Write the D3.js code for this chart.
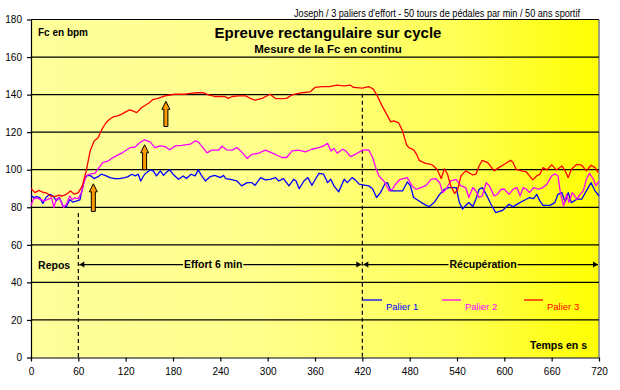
<!DOCTYPE html>
<html>
<head>
<meta charset="utf-8">
<script src="https://cdn.jsdelivr.net/npm/d3@7"></script>
<style>
  html, body { margin: 0; padding: 0; background: #fff; }
  svg { display: block; font-family: "Liberation Sans", Arial, sans-serif; }
</style>
</head>
<body>
<svg id="chart" width="620" height="390"></svg>
<script>
// ---------- DATA ----------
const xTicks = [0, 60, 120, 180, 240, 300, 360, 420, 480, 540, 600, 660, 720];
const yTicks = [0, 20, 40, 60, 80, 100, 120, 140, 160, 180];

const seriesNames = ["Palier 1", "Palier 2", "Palier 3"];

// Palier 1 (blue)
const p1Time = [0,3,7,11,15,19,24,28,32,36,41,45,49,53,58,62,65,68,71,76,80,85,89,94,100,106,112,119,123,128,132,136,139,144,151,155,159,164,168,172,176,180,187,193,197,203,208,212,216,221,227,233,240,244,247,253,261,267,274,280,284,291,297,303,310,314,320,327,333,336,340,346,351,356,365,371,376,380,384,390,397,401,407,411,416,424,428,433,438,443,449,452,456,462,471,477,481,485,490,495,501,505,511,518,524,530,539,543,547,551,555,560,564,568,572,577,583,589,598,606,611,618,626,632,637,641,645,649,658,664,668,673,677,681,685,692,698,704,710,715,720];
const p1Hr = [86.4,85.2,85.7,85.2,82.1,85.2,86.9,86,83.4,85.2,80.4,80.4,84,82.8,83.4,84,89.6,94.9,97,96.7,95.3,96.3,97.6,97,95.8,95.3,95.3,95.8,96.3,97.6,96.7,97.6,94,97.6,99.9,99.4,96.7,99.4,97,98.8,99.9,97.6,94.9,96.7,95.3,97.6,96.7,99.9,97,94,96.3,97,95.8,97,95.3,94.9,94,91.4,93.1,93.1,91.7,95.8,94.6,94.9,95.8,94,95.3,91.4,94.9,94,89.9,94,95.8,91.7,98.1,97.6,93.1,94.9,91.4,88.2,94.9,93.1,95.8,94.6,92.3,91.7,91.4,89.9,85.2,87.8,92.8,93.1,88.7,88.7,88.7,93.5,91.4,85.2,83.9,82.5,81,80.4,82.5,86.9,89.6,90.5,90.5,82.5,79,81,82.5,80.4,84.3,89.6,90.5,86.9,81.6,77.2,78.4,81.6,80.2,82.1,83.9,85.2,84.6,86.9,83.4,81,81,82.5,86.9,87.8,82.8,87.8,82.5,84.3,84.3,88.7,93.1,88.7,86];

// Palier 2 (magenta)
const p2Time = [0,3,7,11,17,22,26,29,32,36,41,45,49,52,55,60,64,67,70,74,81,86,91,98,102,108,115,120,126,132,138,144,151,157,164,170,176,183,191,202,208,212,218,223,229,238,242,248,255,261,267,274,280,289,297,306,312,318,324,331,339,348,356,365,371,376,380,384,388,395,399,405,411,420,428,433,437,441,445,449,454,458,462,468,477,483,488,494,501,507,513,518,522,526,532,539,545,551,555,560,564,568,572,577,581,587,591,596,600,606,611,616,620,624,628,632,637,643,649,654,660,664,668,671,675,679,682,686,692,696,700,704,708,713,716,720];
const p2Hr = [81,84.3,85,84.3,83.4,84.3,85,80,84.3,85,80,81.6,86,84,85,84.6,87.8,93,96.7,97.6,98,101,103.8,104.7,106,107.4,108.8,110.2,111.8,112.1,114.5,115.9,114.8,111.8,112.7,112.3,110.6,112.7,113,113.6,115.3,114.8,111.8,109,110.4,110.4,112.5,110.6,110.4,111.8,109.5,106,108.2,108.8,110.4,108.8,107.7,106.5,106.5,110,110.4,109.5,110.9,111.8,112.7,114.1,110,111.3,108.8,110.9,110,107,108.2,110.4,110.6,106.5,101.1,96.7,94.9,93.1,88.7,89.6,92.3,94.9,95.8,91.4,89.6,90.5,91.7,94.9,95.3,93.1,87.8,89.6,94,94.9,91.4,90.5,85.2,90.5,88.7,85.2,86,93.1,91.4,86,86.9,89.6,89.6,86.9,89.5,90.5,86,90.5,89.6,87.8,90.5,89.6,90.5,92.3,96.7,97.9,96.7,87.8,80.7,86.9,82.5,87.8,84.3,86.9,88.7,94.9,98.1,94.9,91.4,94];

// Palier 3 (red)
const p3Time = [0,5,10,15,20,25,30,35,40,45,50,55,60,65,70,75,80,85,90,95,100,105,110,115,120,125,129,134,140,149,155,161,170,182,195,202,210,218,225,233,246,250,255,263,272,278,284,293,303,310,318,324,331,343,354,360,369,378,388,397,405,409,420,428,434,439,445,452,456,460,466,471,476,479,485,489,492,500,507,511,515,520,524,528,532,537,541,545,551,560,564,568,572,579,587,593,600,608,611,615,622,628,632,636,641,645,649,654,660,666,673,677,681,685,692,698,704,710,715,719];
const p3Hr = [90,87.8,89,88,87.5,86,85.7,86.4,86,87,88.7,87,87.8,91.4,99.4,110,115.3,117,121.6,125,127,128.3,128.7,129.6,130.8,131.9,131.3,130.4,133,135.4,137.5,138,139.3,140.2,140.2,140.7,141,141,139.9,139,139,138,139,139.3,139.3,138,137,138,140.2,137.9,137.9,138,139.9,141,141.5,143.8,144.3,144.3,145,144.7,145,143.8,143.4,144.3,142.9,139.3,134,128.7,125.5,126,125,120.7,113.3,111.8,110.6,108,105,103.4,102.9,101.7,100,95.3,100.5,97.6,91.4,87.3,89.6,96.7,99.4,97.2,97.6,102,105,103.8,99.4,101.1,102.9,105,103.8,100.2,99.4,98.8,96.7,94.6,96.7,97.6,101.1,99.9,102.6,99.9,102,99.4,95.8,100.2,102.9,102.4,99.4,102.4,101.1,98.5];

const seriesColors = ["#0000FF", "#FF00FF", "#FF0000"];

// annotations (time, value)
const phaseTimes = [60, 420];           // dashed phase boundaries
const phaseTops = [77, 140.5];          // top of each dashed line (bpm)
const arrowTimes = [79, 144, 171];      // orange arrows
const arrowBase = [77.8, 100, 123];
const arrowTip = [92.5, 113.3, 136.4];
const phaseLevel = 49.5;                // bpm level of the phase arrows
const phaseLabels = ["Repos", "Effort 6 min", "Récupération"];

// ---------- CHART ----------
const svg = d3.select("#chart");
const L = 31, R = 599, T = 19.5, B = 357.5;
const x = d3.scaleLinear().domain([0, 720]).range([L, R]);
const y = d3.scaleLinear().domain([0, 180]).range([B, T]);

const defs = svg.append("defs");
const grad = defs.append("linearGradient").attr("id", "bg")
  .attr("x1", "0%").attr("y1", "0%").attr("x2", "100%").attr("y2", "0%");
[[0, "#FFFF9C"], [0.4, "#FFFF8C"], [0.75, "#FFFF55"], [1, "#FFFF00"]].forEach(([o, c]) =>
  grad.append("stop").attr("offset", o).attr("stop-color", c));

svg.append("rect").attr("width", 620).attr("height", 390).attr("fill", "#fff");
svg.append("rect").attr("x", L).attr("y", T).attr("width", R - L).attr("height", B - T)
  .attr("fill", "url(#bg)");
svg.append("line").attr("x1", R).attr("x2", R).attr("y1", T).attr("y2", B)
  .attr("stroke", "#808080").attr("stroke-width", 1.5);

// grid
svg.append("g").selectAll("line").data(yTicks.filter(d => d > 0)).join("line")
  .attr("x1", L).attr("x2", R).attr("y1", d => y(d)).attr("y2", d => y(d))
  .attr("stroke", "#000").attr("stroke-width", 1.2);

// axes
const yAxis = svg.append("g").attr("transform", `translate(${L},0)`)
  .call(d3.axisLeft(y).tickValues(yTicks).tickSize(4).tickPadding(5).tickSizeOuter(0));
const xAxis = svg.append("g").attr("transform", `translate(0,${B})`)
  .call(d3.axisBottom(x).tickValues(xTicks).tickSize(4).tickPadding(6).tickSizeOuter(0));
[yAxis, xAxis].forEach(g => {
  g.selectAll("path,line").attr("stroke", "#000").attr("stroke-width", 1.2);
  g.selectAll("text").attr("font-size", 10).attr("fill", "#000")
    .attr("font-family", "'Liberation Sans', Arial, sans-serif");
});

// dashed phase lines
svg.append("g").selectAll("line").data(phaseTimes).join("line")
  .attr("x1", d => x(d)).attr("x2", d => x(d))
  .attr("y1", (d, i) => y(phaseTops[i])).attr("y2", B)
  .attr("stroke", "#000").attr("stroke-width", 1.2).attr("stroke-dasharray", "4,3");

// series
const series = [[p1Time, p1Hr], [p2Time, p2Hr], [p3Time, p3Hr]];
const line = d3.line().x(d => x(d[0])).y(d => y(d[1]));
series.forEach(([t, v], i) => {
  svg.append("path").datum(t.map((tt, k) => [tt, v[k]]))
    .attr("d", line).attr("fill", "none")
    .attr("stroke", seriesColors[i]).attr("stroke-width", 1.3)
    .attr("stroke-linejoin", "round");
});

// orange arrows
svg.append("g").selectAll("path").data(arrowTimes).join("path")
  .attr("d", (d, i) => {
    const cx = x(d), ty = y(arrowTip[i]), by = y(arrowBase[i]);
    return `M${cx},${ty} L${cx + 4},${ty + 8} L${cx + 2},${ty + 8} L${cx + 2},${by} L${cx - 2},${by} L${cx - 2},${ty + 8} L${cx - 4},${ty + 8} Z`;
  })
  .attr("fill", "#FF9900").attr("stroke", "#000").attr("stroke-width", 1);

// phase labels & arrows
const py = y(phaseLevel);
svg.append("text").attr("x", x(9)).attr("y", py + 4)
  .attr("font-size", 10.5).attr("font-weight", "bold").text(phaseLabels[0]);

function phaseArrow(t0, t1, label, tc) {
  const lbl = svg.append("text").attr("x", x(tc)).attr("y", py + 3.5)
    .attr("text-anchor", "middle").attr("font-size", 10.5).attr("font-weight", "bold").text(label);
  const bb = lbl.node().getBBox();
  const a = x(t0) + 1, b = x(t1) - 1;
  svg.append("line").attr("x1", a).attr("x2", bb.x - 1).attr("y1", py).attr("y2", py)
    .attr("stroke", "#000").attr("stroke-width", 1.2);
  svg.append("line").attr("x1", bb.x + bb.width + 1).attr("x2", b).attr("y1", py).attr("y2", py)
    .attr("stroke", "#000").attr("stroke-width", 1.2);
  svg.append("path").attr("d", `M${a},${py} L${a + 5},${py - 3} L${a + 5},${py + 3} Z`).attr("fill", "#000");
  svg.append("path").attr("d", `M${b},${py} L${b - 5},${py - 3} L${b - 5},${py + 3} Z`).attr("fill", "#000");
}
phaseArrow(phaseTimes[0], phaseTimes[1], phaseLabels[1], 231);
phaseArrow(phaseTimes[1], 720, phaseLabels[2], 573);

// titles
svg.append("text").attr("x", 328).attr("y", 38).attr("text-anchor", "middle")
  .attr("font-size", 15).attr("font-weight", "bold").text("Epreuve rectangulaire sur cycle");
svg.append("text").attr("x", 328).attr("y", 53).attr("text-anchor", "middle")
  .attr("font-size", 11.5).attr("font-weight", "bold").text("Mesure de la Fc en continu");
svg.append("text").attr("x", 38).attr("y", 35.5)
  .attr("font-size", 10).attr("font-weight", "bold").text("Fc en bpm");
svg.append("text").attr("x", 580).attr("y", 17).attr("text-anchor", "end")
  .attr("font-size", 10).attr("textLength", 286).attr("lengthAdjust", "spacingAndGlyphs")
  .text("Joseph / 3 paliers d'effort - 50 tours de pédales par min / 50 ans sportif");
svg.append("text").attr("x", 587).attr("y", 349).attr("text-anchor", "end")
  .attr("font-size", 10.5).attr("font-weight", "bold").text("Temps en s");

// legend
const legX = [363, 442, 524];
seriesNames.forEach((n, i) => {
  svg.append("line").attr("x1", legX[i]).attr("x2", legX[i] + 19).attr("y1", 300).attr("y2", 300)
    .attr("stroke", seriesColors[i]).attr("stroke-width", 1.3);
  svg.append("text").attr("x", legX[i] + 23).attr("y", 309.5).attr("font-size", 9.5)
    .attr("fill", seriesColors[i]).text(n);
});
</script>
</body>
</html>
